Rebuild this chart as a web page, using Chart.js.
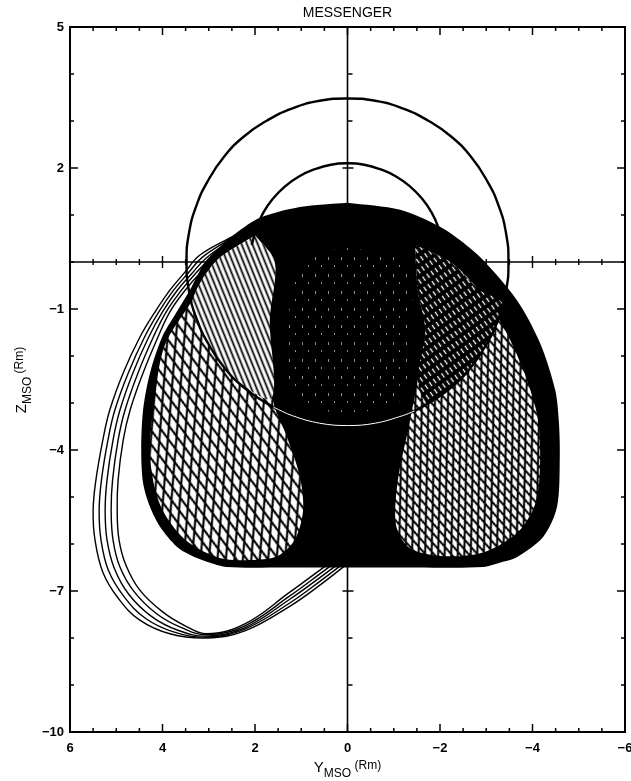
<!DOCTYPE html>
<html>
<head>
<meta charset="utf-8">
<title>MESSENGER</title>
<script src="https://cdn.jsdelivr.net/npm/chart.js@4.4.0/dist/chart.umd.min.js"></script>
<style>
  html, body { margin: 0; padding: 0; background: #fff; }
  #wrap { width: 631px; height: 781px; position: relative; }
</style>
</head>
<body>
<div id="wrap"><canvas id="orbitChart"></canvas></div>
<script>
// Tick labels
const yMsoTicks = [6, 4, 2, 0, -2, -4, -6];
const zMsoTicks = [5, 2, -1, -4, -7, -10];

// Orbit envelope outline, [Y_MSO, Z_MSO] in Rm
const envelope = [
  [0.00, 1.26], [1.03, 1.17], [1.89, 0.94], [2.40, 0.62], [2.76, 0.32], [3.08, 0.00], [3.41, -0.60],
  [3.71, -1.09], [4.01, -1.60], [4.27, -2.36], [4.42, -3.15], [4.46, -4.00], [4.42, -4.70],
  [4.27, -5.21], [4.05, -5.64], [3.69, -6.06], [3.41, -6.23], [3.04, -6.38], [2.61, -6.49],
  [1.30, -6.50], [0.00, -6.50], [-1.40, -6.50], [-2.93, -6.49], [-3.36, -6.38], [-3.66, -6.28],
  [-4.23, -5.85], [-4.53, -5.21], [-4.59, -4.15], [-4.57, -3.40], [-4.49, -2.72], [-4.16, -1.72],
  [-3.66, -0.81], [-2.93, 0.04], [-2.45, 0.45], [-2.00, 0.75], [-1.14, 1.11], [0.00, 1.26]
];

// Open mesh areas inside the envelope (dawn / dusk sides)
const leftLobe = [
  [2.00, 0.57], [1.57, 0.00], [1.68, -1.23], [1.61, -2.94], [1.31, -3.72], [1.03, -4.57],
  [0.96, -5.28], [1.14, -5.91], [1.52, -6.26], [2.11, -6.34], [2.76, -6.30], [3.51, -5.91],
  [4.05, -5.17], [4.27, -4.11], [4.16, -2.83], [3.95, -1.77], [3.35, -0.81], [2.86, 0.00],
  [2.00, 0.57]
];
const leftLobeUpper = [
  [2.00, 0.57], [1.57, 0.00], [1.68, -1.23], [1.64, -2.90], [2.46, -2.46], [3.01, -1.74],
  [3.36, -0.90], [2.86, 0.00], [2.00, 0.57]
];
const rightLobe = [
  [-1.46, 0.36], [-2.22, 0.00], [-2.86, -0.60], [-3.41, -1.45], [-3.84, -2.40], [-4.12, -3.36],
  [-4.16, -4.43], [-4.05, -5.17], [-3.69, -5.74], [-2.97, -6.17], [-2.11, -6.26], [-1.35, -6.09],
  [-1.05, -5.60], [-1.09, -4.64], [-1.31, -3.57], [-1.52, -2.51], [-1.68, -1.45], [-1.52, -0.60],
  [-1.46, 0.36]
];
const rightLobeUpper = [
  [-1.46, 0.36], [-2.22, 0.00], [-2.86, -0.60], [-3.36, -0.90], [-3.01, -1.74], [-2.46, -2.46],
  [-1.74, -3.01], [-1.52, -2.51], [-1.68, -1.45], [-1.52, -0.60], [-1.46, 0.36]
];
const centerSpeckle = [
  [0.01, 0.30], [-0.92, 0.15], [-1.35, -0.38], [-1.39, -1.45], [-1.35, -2.51], [-1.03, -3.04],
  [0.01, -3.19], [1.03, -3.04], [1.29, -2.51], [1.29, -1.45], [1.14, -0.38], [0.81, 0.15],
  [0.01, 0.30]
];

// Boundary circles (outer r ~3.48, inner r ~2.1)
const outerCircle = [
  [0.00, -3.48], [0.60, -3.43], [1.19, -3.27], [1.74, -3.01], [2.24, -2.67], [2.67, -2.24],
  [3.01, -1.74], [3.27, -1.19], [3.43, -0.60], [3.48, 0.00], [3.43, 0.60], [3.27, 1.19],
  [3.01, 1.74], [2.67, 2.24], [2.24, 2.67], [1.74, 3.01], [1.19, 3.27], [0.60, 3.43],
  [0.00, 3.48], [-0.60, 3.43], [-1.19, 3.27], [-1.74, 3.01], [-2.24, 2.67], [-2.67, 2.24],
  [-3.01, 1.74], [-3.27, 1.19], [-3.43, 0.60], [-3.48, 0.00], [-3.43, -0.60], [-3.27, -1.19],
  [-3.01, -1.74], [-2.67, -2.24], [-2.24, -2.67], [-1.74, -3.01], [-1.19, -3.27], [-0.60, -3.43],
  [0.00, -3.48], [0.60, -3.43]
];
const outerCircleLow = [
  [1.60, -3.09], [1.19, -3.27], [0.60, -3.43], [0.00, -3.48], [-0.60, -3.43], [-1.19, -3.27], [-1.45, -3.17]
];
const innerCircle = [
  [2.07, 0.36], [1.97, 0.72], [1.82, 1.05], [1.61, 1.35], [1.35, 1.61], [1.05, 1.82],
  [0.72, 1.97], [0.36, 2.07], [0.00, 2.10], [-0.36, 2.07], [-0.72, 1.97], [-1.05, 1.82],
  [-1.35, 1.61], [-1.61, 1.35], [-1.82, 1.05], [-1.97, 0.72], [-2.07, 0.36]
];

// Early eccentric orbits swinging out to Z ~ -8
const loop1 = [
  [2.43, 0.57], [3.19, 0.15], [3.51, -0.21], [3.84, -0.60], [4.16, -1.06], [4.49, -1.60],
  [4.85, -2.36], [5.14, -3.15], [5.29, -3.79], [5.44, -4.64], [5.50, -5.28], [5.46, -5.91],
  [5.29, -6.60], [4.96, -7.15], [4.49, -7.62], [3.84, -7.91], [3.04, -8.00], [2.22, -7.85],
  [1.24, -7.32], [0.59, -6.87], [-0.05, -6.38]
];
const loop2 = [
  [2.40, 0.57], [3.13, 0.11], [3.44, -0.23], [3.76, -0.60], [4.08, -1.06], [4.39, -1.60],
  [4.74, -2.36], [5.03, -3.15], [5.18, -3.79], [5.32, -4.64], [5.37, -5.28], [5.33, -5.91],
  [5.17, -6.56], [4.84, -7.11], [4.37, -7.58], [3.76, -7.87], [3.04, -7.98], [2.22, -7.81],
  [1.24, -7.25], [0.59, -6.79], [-0.05, -6.31]
];
const loop3 = [
  [2.38, 0.57], [3.06, 0.08], [3.37, -0.25], [3.68, -0.60], [4.00, -1.06], [4.30, -1.60],
  [4.64, -2.36], [4.92, -3.15], [5.07, -3.79], [5.20, -4.64], [5.24, -5.28], [5.20, -5.91],
  [5.04, -6.52], [4.73, -7.07], [4.24, -7.54], [3.68, -7.83], [3.04, -7.96], [2.22, -7.78],
  [1.24, -7.17], [0.59, -6.71], [-0.05, -6.24]
];
const loop4 = [
  [2.35, 0.57], [3.00, 0.04], [3.30, -0.26], [3.59, -0.60], [3.92, -1.06], [4.20, -1.60],
  [4.53, -2.36], [4.81, -3.15], [4.96, -3.79], [5.08, -4.64], [5.11, -5.28], [5.07, -5.91],
  [4.92, -6.49], [4.61, -7.02], [4.12, -7.49], [3.59, -7.78], [3.04, -7.93], [2.22, -7.74],
  [1.24, -7.10], [0.59, -6.63], [-0.05, -6.16]
];
const loop5 = [
  [2.32, 0.57], [2.93, 0.00], [3.23, -0.28], [3.51, -0.60], [3.84, -1.06], [4.10, -1.60],
  [4.42, -2.36], [4.70, -3.15], [4.85, -3.79], [4.96, -4.64], [4.98, -5.28], [4.94, -5.91],
  [4.79, -6.45], [4.49, -6.98], [3.99, -7.45], [3.51, -7.74], [3.04, -7.91], [2.22, -7.70],
  [1.24, -7.02], [0.59, -6.55], [-0.05, -6.09]
];

const FONT = '"Liberation Sans", Arial, sans-serif';
const canvas = document.getElementById('orbitChart');
const mainCtx = canvas.getContext('2d');

// crossed orbit tracks -> diamond mesh
function meshPattern(w, h, lw, angle) {
  const c = document.createElement('canvas');
  c.width = w; c.height = h;
  const g = c.getContext('2d');
  g.fillStyle = '#fff';
  g.fillRect(0, 0, w, h);
  g.strokeStyle = '#000';
  g.lineWidth = lw;
  g.beginPath();
  g.moveTo(0, 0); g.lineTo(w, h);
  g.moveTo(w, 0); g.lineTo(0, h);
  g.stroke();
  const p = mainCtx.createPattern(c, 'repeat');
  p.setTransform(new DOMMatrix().rotateSelf(angle));
  return p;
}

// one family of tracks (parallel strokes or dashes)
function hatchPattern(w, h, lw, angle, bg, fg, dash) {
  const c = document.createElement('canvas');
  c.width = w; c.height = h;
  const g = c.getContext('2d');
  g.fillStyle = bg;
  g.fillRect(0, 0, w, h);
  g.strokeStyle = fg;
  g.lineWidth = lw;
  g.beginPath();
  if (dash) { g.moveTo(w / 2, 1); g.lineTo(w / 2, h - 3); }
  else { g.moveTo(w / 2, 0); g.lineTo(w / 2, h); }
  g.stroke();
  const p = mainCtx.createPattern(c, 'repeat');
  p.setTransform(new DOMMatrix().rotateSelf(angle));
  return p;
}

function specklePattern() {
  const c = document.createElement('canvas');
  c.width = 13; c.height = 17;
  const g = c.getContext('2d');
  g.fillStyle = '#000';
  g.fillRect(0, 0, 13, 17);
  g.fillStyle = 'rgba(255,255,255,0.55)';
  g.fillRect(3, 2, 1, 3);
  g.fillRect(9, 10, 1, 2);
  return mainCtx.createPattern(c, 'repeat');
}

const toPts = arr => arr.map(([Y, Z]) => ({ x: Y, y: Z }));

function area(label, pts, fillStyle, order) {
  return {
    type: 'line', label, data: toPts(pts), fill: 'shape',
    backgroundColor: fillStyle, borderWidth: 0, borderColor: 'rgba(0,0,0,0)',
    pointRadius: 0, tension: 0.3, order
  };
}

function curve(label, pts, color, width, tension, order) {
  return {
    type: 'line', label, data: toPts(pts), fill: false,
    borderColor: color, borderWidth: width, pointRadius: 0, tension, order
  };
}

// Y=0 and Z=0 lines through the plot
const crossAxes = {
  id: 'crossAxes',
  beforeDatasetsDraw(chart) {
    const { ctx, chartArea: a, scales: { x, y } } = chart;
    const x0 = x.getPixelForValue(0);
    const y0 = y.getPixelForValue(0);
    ctx.save();
    ctx.strokeStyle = '#000';
    ctx.lineWidth = 1.6;
    ctx.beginPath();
    ctx.moveTo(x0, a.top); ctx.lineTo(x0, a.bottom);
    ctx.moveTo(a.left, y0); ctx.lineTo(a.right, y0);
    ctx.stroke();
    ctx.lineWidth = 1.4;
    ctx.beginPath();
    for (let v = -10; v <= 5; v++) {
      const py = y.getPixelForValue(v);
      if (zMsoTicks.includes(v)) { ctx.moveTo(x0 - 5, py); ctx.lineTo(x0 + 6, py); }
      else { ctx.moveTo(x0, py); ctx.lineTo(x0 + 5, py); }
    }
    for (let v = -6; v <= 6; v += 0.5) {
      const px = x.getPixelForValue(v);
      const len = Math.abs(v % 2) < 0.01 ? 6 : 3;
      ctx.moveTo(px, y0 - len); ctx.lineTo(px, y0 + len);
    }
    ctx.stroke();
    ctx.restore();
  }
};

// frame, ticks, labels, titles
const framePlugin = {
  id: 'frame',
  afterDatasetsDraw(chart) {
    const { ctx, chartArea: a, scales: { x, y } } = chart;
    ctx.save();
    ctx.strokeStyle = '#000';
    ctx.lineWidth = 2;
    ctx.strokeRect(a.left, a.top, a.right - a.left, a.bottom - a.top);
    ctx.lineWidth = 1.5;
    ctx.beginPath();
    for (let v = -6; v <= 6; v += 0.5) {
      const px = x.getPixelForValue(v);
      const len = Math.abs(v % 2) < 0.01 ? 8 : 4;
      ctx.moveTo(px, a.bottom); ctx.lineTo(px, a.bottom - len);
      ctx.moveTo(px, a.top); ctx.lineTo(px, a.top + len);
    }
    for (let v = -10; v <= 5; v++) {
      const py = y.getPixelForValue(v);
      const len = zMsoTicks.includes(v) ? 8 : 4;
      ctx.moveTo(a.left, py); ctx.lineTo(a.left + len, py);
      ctx.moveTo(a.right, py); ctx.lineTo(a.right - len, py);
    }
    ctx.stroke();

    ctx.fillStyle = '#000';
    ctx.font = 'bold 13px ' + FONT;
    ctx.textAlign = 'center';
    ctx.textBaseline = 'middle';
    yMsoTicks.forEach(v => {
      ctx.fillText(String(v).replace('-', '\u2212'), x.getPixelForValue(v), a.bottom + 16);
    });
    ctx.textAlign = 'right';
    zMsoTicks.forEach(v => {
      ctx.fillText(String(v).replace('-', '\u2212'), a.left - 6, y.getPixelForValue(v));
    });

    // title
    ctx.font = '14px ' + FONT;
    ctx.textAlign = 'center';
    ctx.fillText('MESSENGER', (a.left + a.right) / 2, 13);

    // axis titles with subscripts
    const drawLabel = (main, sub, tail) => {
      ctx.textAlign = 'left';
      ctx.textBaseline = 'alphabetic';
      ctx.font = '15px ' + FONT;
      const w1 = ctx.measureText(main).width;
      ctx.font = '12px ' + FONT;
      const w2 = ctx.measureText(sub).width;
      const w3 = ctx.measureText(tail).width;
      let cx = -(w1 + w2 + w3) / 2;
      ctx.font = '15px ' + FONT;
      ctx.fillText(main, cx, 0);
      cx += w1;
      ctx.font = '12px ' + FONT;
      ctx.fillText(sub, cx, 5);
      cx += w2;
      ctx.fillText(tail, cx, -3);
    };
    ctx.save();
    ctx.translate((a.left + a.right) / 2, a.bottom + 40);
    drawLabel('Y', 'MSO', ' (Rm)');
    ctx.restore();
    ctx.save();
    ctx.translate(26, 380);
    ctx.rotate(-Math.PI / 2);
    drawLabel('Z', 'MSO', ' (Rm)');
    ctx.restore();
    ctx.restore();
  }
};

new Chart(canvas, {
  type: 'scatter',
  data: {
    datasets: [
      curve('outer circle (low arc)', outerCircleLow, '#fff', 1, 0.4, 1),
      curve('outer circle', outerCircle, '#000', 2.4, 0.5, 2),
      curve('inner circle', innerCircle, '#000', 2.4, 0.5, 2),
      area('dawn side, upper', leftLobeUpper, hatchPattern(5, 12, 1.8, -22, '#fff', '#000', false), 3),
      area('dusk side, upper', rightLobeUpper, hatchPattern(5, 9, 1.3, -35, '#000', '#fff', true), 3),
      area('dawn side', leftLobe, meshPattern(9, 24, 2.1, -16), 4),
      area('dusk side', rightLobe, meshPattern(7, 18, 2.0, -20), 4),
      area('center', centerSpeckle, specklePattern(), 5),
      area('envelope', envelope, '#000', 6),
      curve('orbit 1', loop1, '#000', 1.4, 0.4, 7),
      curve('orbit 2', loop2, '#000', 1.4, 0.4, 7),
      curve('orbit 3', loop3, '#000', 1.4, 0.4, 7),
      curve('orbit 4', loop4, '#000', 1.4, 0.4, 7),
      curve('orbit 5', loop5, '#000', 1.4, 0.4, 7)
    ]
  },
  options: {
    responsive: true,
    maintainAspectRatio: false,
    animation: false,
    events: [],
    layout: { padding: { left: 70, right: 6, top: 27, bottom: 49 } },
    plugins: { legend: { display: false }, tooltip: { enabled: false } },
    scales: {
      x: { type: 'linear', min: -6, max: 6, reverse: true, display: false },
      y: { type: 'linear', min: -10, max: 5, display: false }
    }
  },
  plugins: [crossAxes, framePlugin]
});
</script>
</body>
</html>
